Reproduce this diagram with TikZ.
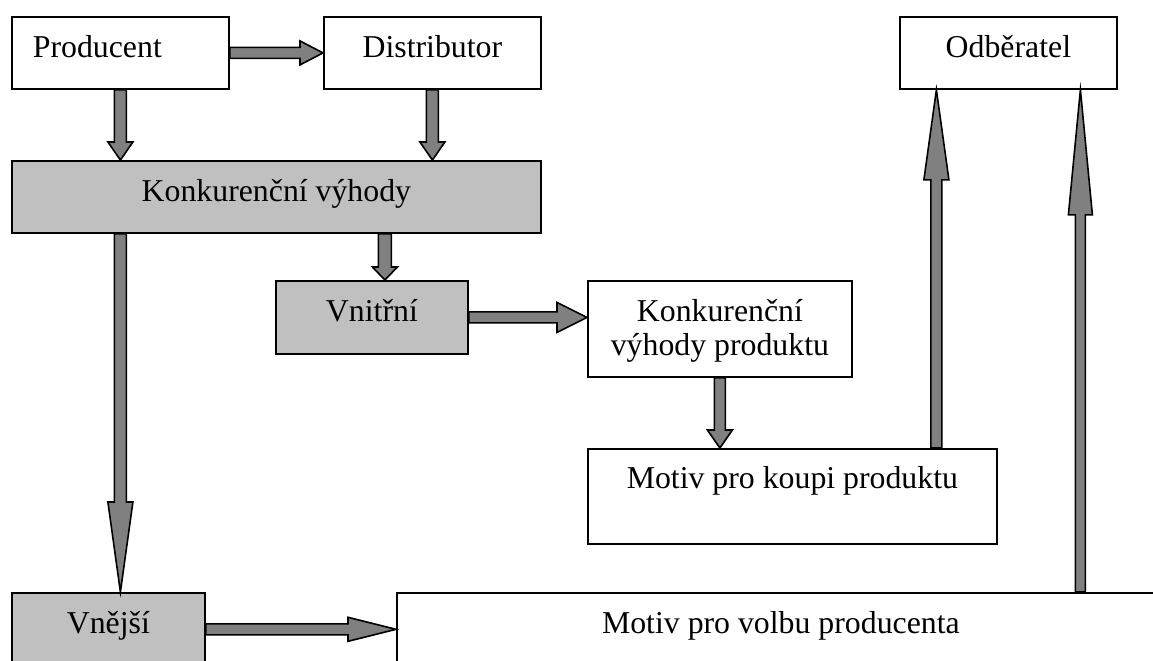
\documentclass[tikz,border=0pt]{standalone}
\usepackage{fontspec}
\setmainfont{Liberation Serif}
\usetikzlibrary{calc}
\definecolor{arrgray}{HTML}{808080}
\definecolor{boxgray}{HTML}{C0C0C0}
\tikzset{
  box/.style={draw, line width=0.9pt, anchor=north west, inner sep=0pt, text height=20.25pt,
    font=\fontsize{15.9pt}{17pt}\selectfont},
  shadedbox/.style={box, fill=boxgray},
  blk/.style n args={3}{draw=black, fill=arrgray, line width=0.8pt, line join=miter, miter limit=25,
    to path={($(\tikztostart)!#1!90:(\tikztotarget)$)
      -- ($($(\tikztotarget)!#3!(\tikztostart)$)!#1!90:(\tikztotarget)$)
      -- ($($(\tikztotarget)!#3!(\tikztostart)$)!#2!90:(\tikztotarget)$)
      -- (\tikztotarget)
      -- ($($(\tikztotarget)!#3!(\tikztostart)$)!#2!-90:(\tikztotarget)$)
      -- ($($(\tikztotarget)!#3!(\tikztostart)$)!#1!-90:(\tikztotarget)$)
      -- ($(\tikztostart)!#1!-90:(\tikztotarget)$) -- cycle}}
}
\begin{document}
\begin{tikzpicture}[x=0.5pt, y=-0.5pt]
         \useasboundingbox (0,0) rectangle (1153,660);
         \clip (0,0) rectangle (1153,660);
         \fill[white] (0,0) rectangle (1153,660);

         \node[box, text width=87.5pt, align=left, inner xsep=10.5pt, text depth=15.75pt] (prod) at (11,16) {Producent};
         \node[box, minimum width=108.5pt, text depth=15.75pt] (dist) at (323,16) {Distributor};
         \node[box, minimum width=108.5pt, text depth=15.75pt] (odb) at (899,16) {Odběratel};
         \node[shadedbox, minimum width=264.5pt, text depth=15.75pt] (konk) at (11,160) {Konkurenční výhody};
         \node[shadedbox, minimum width=96pt, text depth=16.25pt] (vnit) at (275,280) {Vnitřní};
         \node[box, minimum width=132pt, text height=37.5pt, text depth=10.5pt, align=center] (kvp) at (587,280) {Konkurenční\\výhody produktu};
         \node[box, minimum width=204.5pt, text height=20pt, text depth=27.5pt] (koupi) at (587,448) {Motiv pro koupi produktu};
         \node[shadedbox, minimum width=96.5pt, text height=20.5pt, text depth=19.5pt] (vnej) at (11,592) {Vnější};
         \node[box, minimum width=384pt, text height=20.5pt, text depth=19.5pt] (volba) at (396,592) {Motiv pro volbu producenta};

         \draw[blk={2.75pt}{6pt}{11.5pt}] (prod.east) to (dist.west);
         \draw[blk={3pt}{6.25pt}{9pt}] (prod.south) to (prod.south |- konk.north);
         \draw[blk={3pt}{6.25pt}{9pt}] (dist.south) to (dist.south |- konk.north);
         \draw[blk={3.25pt}{6.25pt}{6.5pt}] ([xshift=6.5pt]vnit.north |- konk.south) to ([xshift=6.5pt]vnit.north);
         \draw[blk={3pt}{6.25pt}{45pt}] (prod.south |- konk.south) to (prod.south |- vnej.north);
         \draw[blk={2.75pt}{7.5pt}{15pt}] (vnit.east) to (vnit.east -| kvp.west);
         \draw[blk={2.75pt}{6.25pt}{9pt}] (kvp.south) to (kvp.south |- koupi.north);
         \draw[blk={2.75pt}{6pt}{24pt}] (vnej.mid east) to (vnej.mid east -| volba.west);
         \draw[blk={2.75pt}{6.25pt}{45pt}] ([xshift=-36pt]odb.south |- koupi.north) to ([xshift=-36pt]odb.south);
         \draw[blk={2.5pt}{6pt}{62.5pt}] ([xshift=36pt]odb.south |- volba.north) to ([xshift=36pt]odb.south);
      \end{tikzpicture}
\end{document}
